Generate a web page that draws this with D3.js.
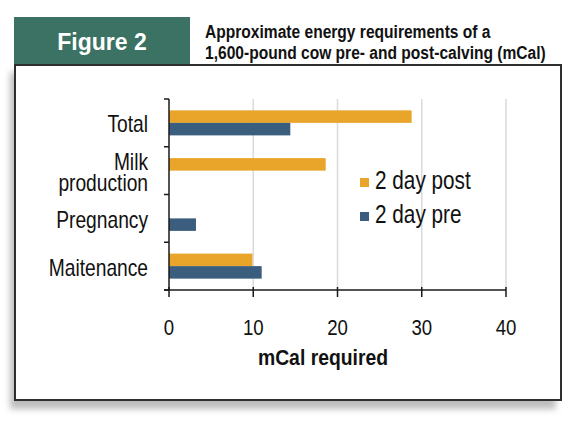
<!DOCTYPE html>
<html>
<head>
<meta charset="utf-8">
<script src="https://cdn.jsdelivr.net/npm/d3@7"></script>
<style>
  html, body { margin: 0; padding: 0; background: #fff; }
  svg { display: block; }
</style>
</head>
<body>
<div id="chart"></div>
<script>
const categories = ["Total", "Milk production", "Pregnancy", "Maitenance"];
const series = ["2 day post", "2 day pre"];
const postValues = [28.8, 18.6, 0, 9.9];
const preValues = [14.4, 0, 3.2, 11.0];
const xTicks = [0, 10, 20, 30, 40];

const W = 575, H = 425;
const COLORS = { "2 day post": "#e8a52a", "2 day pre": "#3b5d7e" };
const FONT = "'Liberation Sans', Arial, sans-serif";
const PLOT = { left: 169, right: 506, top: 99, bottom: 290 };

const svg = d3.select("#chart").append("svg")
    .attr("width", W).attr("height", H)
    .attr("viewBox", [0, 0, W, H]);

// no condensed face is installed, so squeeze the regular one horizontally
const narrowText = (parent, px, py, k) => parent.append("text")
    .attr("transform", `translate(${px},${py}) scale(${k},1)`)
    .attr("font-family", FONT).attr("fill", "#111");

const defs = svg.append("defs");
defs.append("filter").attr("id", "blur")
    .attr("x", "-10%").attr("y", "-10%").attr("width", "120%").attr("height", "120%")
    .append("feGaussianBlur").attr("stdDeviation", 3);

// frame, shadow and tab
svg.append("rect").attr("x", 10).attr("y", 72).attr("width", 546).attr("height", 337)
    .attr("fill", "#bdbdbd").attr("filter", "url(#blur)");
svg.append("rect").attr("x", 14).attr("y", 17).attr("width", 176).attr("height", 49)
    .attr("fill", "#3b7264");
svg.append("rect").attr("x", 15).attr("y", 65).attr("width", 546).attr("height", 335)
    .attr("fill", "#fff").attr("stroke", "#2e2e2e").attr("stroke-width", 2);

svg.append("text").attr("x", 102).attr("y", 50).attr("text-anchor", "middle")
    .attr("font-family", FONT).attr("font-weight", "bold")
    .attr("font-size", 23).attr("fill", "#fff").text("Figure 2");

narrowText(svg, 205, 38, 0.82).attr("font-weight", "bold").attr("font-size", 19)
    .text("Approximate energy requirements of a");
narrowText(svg, 205, 59, 0.82).attr("font-weight", "bold").attr("font-size", 19)
    .text("1,600-pound cow pre- and post-calving (mCal)");

// scales
const x = d3.scaleLinear().domain([0, 40]).range([PLOT.left, PLOT.right]);
const y = d3.scaleBand().domain(categories).range([PLOT.top, PLOT.bottom])
    .paddingInner(0.476).paddingOuter(0.238);
const ySub = d3.scaleBand().domain(series).range([0, y.bandwidth()]);

// gridlines
svg.append("g").selectAll("line").data(xTicks.slice(1)).join("line")
    .attr("x1", d => x(d)).attr("x2", d => x(d))
    .attr("y1", PLOT.top).attr("y2", PLOT.bottom)
    .attr("stroke", "#dadada").attr("stroke-width", 1.5);

// bars
const rows = categories.map((c, i) => ({ cat: c, "2 day post": postValues[i], "2 day pre": preValues[i] }));
svg.append("g").selectAll("g").data(rows).join("g")
    .attr("transform", d => `translate(0,${y(d.cat)})`)
    .selectAll("rect")
    .data(d => series.map(s => ({ s, v: d[s] })).filter(e => e.v > 0))
    .join("rect")
    .attr("x", x(0)).attr("y", d => ySub(d.s))
    .attr("width", d => x(d.v) - x(0)).attr("height", ySub.bandwidth())
    .attr("fill", d => COLORS[d.s]);

// y axis with ticks at band boundaries
const step = y.step();
const yBounds = d3.range(categories.length + 1).map(i => PLOT.top + i * step);
const yAxis = svg.append("g").attr("stroke", "#1a1a1a").attr("stroke-width", 1.5);
yAxis.append("line").attr("x1", x(0)).attr("x2", x(0)).attr("y1", PLOT.top).attr("y2", PLOT.bottom);
yAxis.selectAll("line.tick").data(yBounds).join("line").attr("class", "tick")
    .attr("x1", x(0) - 5).attr("x2", x(0)).attr("y1", d => d).attr("y2", d => d);

// x axis
const xAxis = svg.append("g").attr("stroke", "#1a1a1a").attr("stroke-width", 1.5);
xAxis.append("line").attr("x1", x(0) - 5).attr("x2", x(40)).attr("y1", PLOT.bottom).attr("y2", PLOT.bottom);
xAxis.selectAll("line.tick").data(xTicks).join("line").attr("class", "tick")
    .attr("x1", d => x(d)).attr("x2", d => x(d))
    .attr("y1", PLOT.bottom - 3).attr("y2", PLOT.bottom + 7);

const xLabels = svg.append("g");
xTicks.forEach(t => {
    narrowText(xLabels, x(t), 335, 0.81).attr("text-anchor", "middle")
        .attr("font-size", 23).text(t);
});

narrowText(svg, 323, 365, 0.88).attr("text-anchor", "middle")
    .attr("font-weight", "bold").attr("font-size", 22).text("mCal required");

// category labels
const catLabels = svg.append("g");
categories.forEach(c => {
    const cy = y(c) + y.bandwidth() / 2;
    const words = c === "Milk production" ? ["Milk", "production"] : [c];
    words.forEach((w, i) => {
        const off = words.length === 1 ? 9.5 : (i === 0 ? -1 : 20);
        narrowText(catLabels, 148, cy + off, 0.8).attr("text-anchor", "end")
            .attr("font-size", 24).text(w);
    });
});

// legend
const legend = svg.append("g").selectAll("g").data(series).join("g")
    .attr("transform", (d, i) => `translate(360,${178 + i * 34})`);
legend.append("rect").attr("width", 9).attr("height", 9).attr("fill", d => COLORS[d]);
legend.each(function (d) {
    narrowText(d3.select(this), 15, 11, 0.83).attr("font-size", 25).text(d);
});
</script>
</body>
</html>
